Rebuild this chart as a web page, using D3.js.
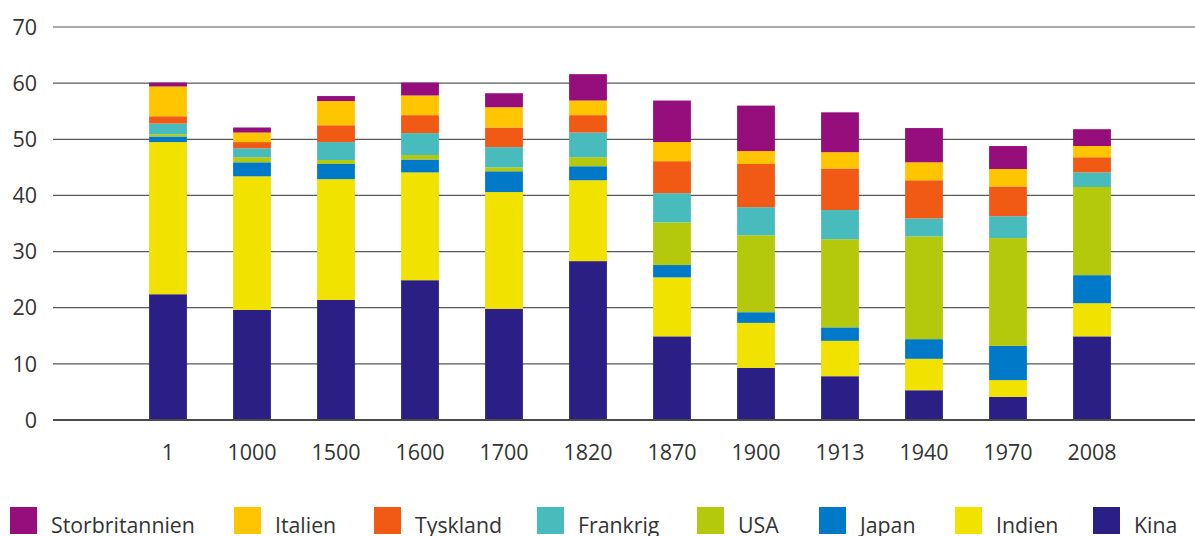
<!DOCTYPE html>
<html>
<head>
<meta charset="utf-8">
<script src="https://cdn.jsdelivr.net/npm/d3@7"></script>
<style>
  html, body { margin: 0; padding: 0; background: #fff; }
  svg { display: block; }
  text { font-family: "Open Sans", "Noto Sans", sans-serif; fill: #333; }
</style>
</head>
<body>
<svg id="chart" width="1195" height="536"></svg>
<script>
const categories = ["1", "1000", "1500", "1600", "1700", "1820", "1870", "1900", "1913", "1940", "1970", "2008"];
const seriesNames = ["Kina", "Indien", "Japan", "USA", "Frankrig", "Tyskland", "Italien", "Storbritannien"];
const kina           = [22.4, 19.6, 21.4, 24.9, 19.8, 28.3, 14.9,  9.3,  7.8,  5.3,  4.1, 14.9];
const indien         = [27.1, 23.8, 21.5, 19.2, 20.8, 14.4, 10.5,  8.0,  6.3,  5.6,  3.0,  5.9];
const japan          = [ 1.0,  2.5,  2.7,  2.3,  3.7,  2.5,  2.2,  1.9,  2.4,  3.5,  6.1,  5.0];
const usa            = [ 0.4,  0.9,  0.7,  0.8,  0.7,  1.6,  7.6, 13.7, 15.7, 18.3, 19.2, 15.7];
const frankrig       = [ 1.9,  1.6,  3.2,  3.9,  3.6,  4.4,  5.2,  5.0,  5.2,  3.2,  3.9,  2.6];
const tyskland       = [ 1.3,  1.1,  3.0,  3.2,  3.5,  3.1,  5.7,  7.7,  7.4,  6.8,  5.3,  2.7];
const italien        = [ 5.3,  1.7,  4.3,  3.5,  3.6,  2.6,  3.4,  2.3,  2.9,  3.2,  3.1,  2.0];
const storbritannien = [ 0.7,  0.9,  0.9,  2.3,  2.5,  4.7,  7.4,  8.1,  7.1,  6.1,  4.1,  3.0];
const yTicks = [0, 10, 20, 30, 40, 50, 60, 70];
const legendOrder = ["Storbritannien", "Italien", "Tyskland", "Frankrig", "USA", "Japan", "Indien", "Kina"];

const colors = {
  "Kina": "#2b1f86",
  "Indien": "#f2e200",
  "Japan": "#0079c8",
  "USA": "#b4c80c",
  "Frankrig": "#48bcbc",
  "Tyskland": "#f15a14",
  "Italien": "#ffc600",
  "Storbritannien": "#960e7c"
};

const seriesData = [kina, indien, japan, usa, frankrig, tyskland, italien, storbritannien];
const table = categories.map((c, i) => {
  const row = { cat: c };
  seriesNames.forEach((s, j) => row[s] = seriesData[j][i]);
  return row;
});

const svg = d3.select("#chart");
const x = d3.scaleBand().domain(categories).range([126, 1134]).paddingInner(0.55).paddingOuter(0.275);
const y = d3.scaleLinear().domain([0, 70]).range([420, 27]);

// gridlines
const grid = svg.append("g");
grid.selectAll("line").data(yTicks).join("line")
  .attr("x1", 53).attr("x2", 1195)
  .attr("y1", d => y(d)).attr("y2", d => y(d))
  .attr("stroke", "#5a5a5a").attr("stroke-width", d => d === 0 ? 2 : 1.2);

// y labels
svg.append("g").selectAll("text").data(yTicks).join("text")
  .attr("x", 37).attr("y", d => y(d)).attr("dy", "0.36em")
  .attr("text-anchor", "end").attr("font-size", 21.5)
  .text(d => d);

// bars
const stack = d3.stack().keys(seriesNames)(table);
svg.append("g").selectAll("g").data(stack).join("g")
  .attr("fill", d => colors[d.key])
  .selectAll("rect").data(d => d).join("rect")
  .attr("x", d => x(d.data.cat))
  .attr("width", x.bandwidth())
  .attr("y", d => y(d[1]))
  .attr("height", d => y(d[0]) - y(d[1]));

// redraw baseline on top
svg.append("line").attr("x1", 53).attr("x2", 1195).attr("y1", y(0)).attr("y2", y(0))
  .attr("stroke", "#4a4a4a").attr("stroke-width", 2);

// x labels
svg.append("g").selectAll("text").data(categories).join("text")
  .attr("x", d => x(d) + x.bandwidth() / 2).attr("y", 460)
  .attr("text-anchor", "middle").attr("font-size", 21.5)
  .text(d => d);

// legend (item positions as layout)
const legendX = d3.scalePoint().domain(legendOrder).range([0, 7]);
const legendSlots = [10, 234, 374, 537, 697, 819, 955, 1093];
const leg = svg.append("g");
legendOrder.forEach(name => {
  const lx = legendSlots[legendX(name)];
  leg.append("rect").attr("x", lx).attr("y", 507).attr("width", 27).attr("height", 27).attr("fill", colors[name]);
  leg.append("text").attr("x", lx + 41).attr("y", 533).attr("font-size", 21.3).text(name);
});
</script>
</body>
</html>
